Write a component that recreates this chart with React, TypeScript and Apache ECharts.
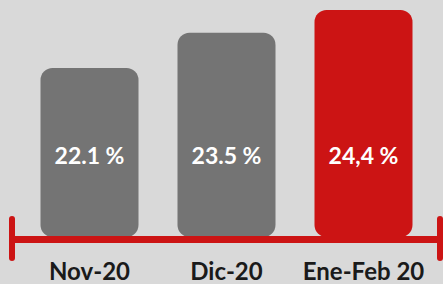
import React, { useEffect, useRef } from "react";
import * as echarts from "echarts";

const categories = ["Nov-20", "Dic-20", "Ene-Feb 20"];
const values = [22.1, 23.5, 24.4];
const valueLabels = ["22.1 %", "23.5 %", "24,4 %"];
const barColors = ["#747474", "#747474", "#cc1414"];

export default function App() {
  const ref = useRef<HTMLDivElement>(null);
  useEffect(() => {
    const chart = echarts.init(ref.current!, null, { renderer: "svg" });
    chart.setOption({
      animation: false,
      backgroundColor: "#d9d9d9",
      grid: { left: 21, right: 11, top: 10, bottom: 47 },
      xAxis: {
        type: "category",
        data: categories,
        axisLine: { show: false },
        axisTick: { show: false },
        axisLabel: {
          interval: 0,
          margin: 21,
          fontFamily: "Lato",
          fontWeight: "bold",
          fontSize: 24,
          color: "#1a1a1a",
        },
      },
      yAxis: {
        type: "value",
        min: 15.4,
        max: 24.4,
        show: false,
        splitLine: { show: false },
      },
      series: [
        {
          type: "bar",
          barWidth: 98,
          data: values.map((v, i) => ({
            value: v,
            itemStyle: { color: barColors[i], borderRadius: 12 },
          })),
          label: {
            show: true,
            position: "insideBottom",
            distance: 71,
            formatter: (p: any) => valueLabels[p.dataIndex],
            fontFamily: "Lato",
            fontWeight: "bold",
            fontSize: 23,
            color: "#ffffff",
          },
        },
      ],
      graphic: [
        {
          type: "line",
          shape: { x1: 12, y1: 239.5, x2: 440, y2: 239.5 },
          style: { stroke: "#cc1414", lineWidth: 7 },
          z: 100,
        },
        {
          type: "line",
          shape: { x1: 12, y1: 219, x2: 12, y2: 258 },
          style: { stroke: "#cc1414", lineWidth: 6, lineCap: "round" },
          z: 100,
        },
        {
          type: "line",
          shape: { x1: 440, y1: 219, x2: 440, y2: 258 },
          style: { stroke: "#cc1414", lineWidth: 6, lineCap: "round" },
          z: 100,
        },
      ],
    });
    return () => chart.dispose();
  }, []);
  return <div ref={ref} style={{ width: 443, height: 284, position: "absolute", left: 0, top: 0 }} />;
}
